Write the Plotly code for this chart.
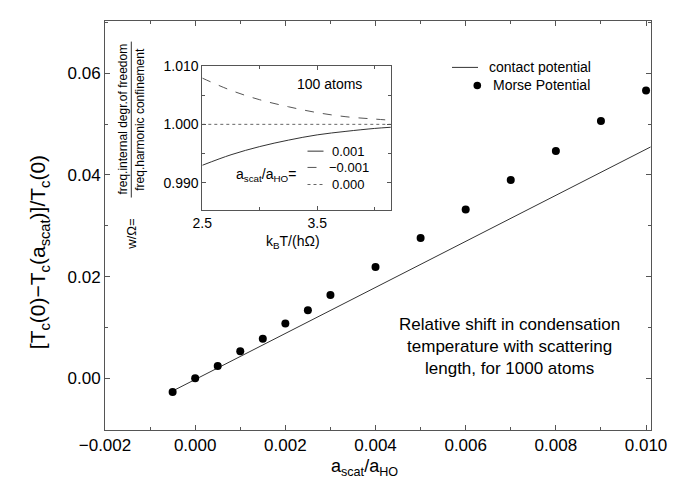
import plotly.graph_objects as go

# ---- data ----
morse_x = [-0.0005, 0.0, 0.0005, 0.001, 0.0015, 0.002, 0.0025, 0.003,
           0.004, 0.005, 0.006, 0.007, 0.008, 0.009, 0.010]
morse_y = [-0.0027, 0.0, 0.0024, 0.0053, 0.0078, 0.0108, 0.0134, 0.0164,
           0.0219, 0.0276, 0.0332, 0.0390, 0.0447, 0.0506, 0.0566]
contact_x = [-0.0005, 0.0101]
contact_y = [-0.0025, 0.0455]

inset_T = [2.5, 2.75, 3.0, 3.25, 3.5, 3.75, 4.0, 4.14]
inset_pos = [0.9930, 0.9948, 0.9962, 0.9973, 0.9982, 0.9988, 0.9993, 0.9995]   # 0.001
inset_neg = [1.0079, 1.0058, 1.0042, 1.0030, 1.0020, 1.0013, 1.0009, 1.0007]   # -0.001
inset_zero = [1.0, 1.0, 1.0, 1.0, 1.0, 1.0, 1.0, 1.0]                          # 0.000

W, H = 682, 478
L, R, T, B = 97, 643, 5, 422
def px(x):
    return (x - L) / (R - L)
def py(y):
    return (B - y) / (B - T)

FONT = "Liberation Sans, Arial, sans-serif"
AX = "#555"

fig = go.Figure()
fig.add_trace(go.Scatter(x=contact_x, y=contact_y, mode="lines",
                         line=dict(color="#333", width=1), showlegend=False))
fig.add_trace(go.Scatter(x=morse_x, y=morse_y, mode="markers",
                         marker=dict(color="black", size=8), showlegend=False))

# inset
fig.add_trace(go.Scatter(x=inset_T, y=inset_zero, mode="lines", xaxis="x2", yaxis="y2",
                         line=dict(color="#666", width=1, dash="dot"), showlegend=False))
fig.add_trace(go.Scatter(x=inset_T, y=inset_neg, mode="lines", xaxis="x2", yaxis="y2",
                         line=dict(color="#555", width=1, dash="dash", shape="spline"), showlegend=False))
fig.add_trace(go.Scatter(x=inset_T, y=inset_pos, mode="lines", xaxis="x2", yaxis="y2",
                         line=dict(color="#333", width=1, shape="spline"), showlegend=False))

common = dict(showgrid=False, zeroline=False, showline=True, linecolor=AX, linewidth=1,
              mirror="allticks", ticks="inside", tickcolor=AX)

fig.update_layout(
    width=W, height=H,
    margin=dict(l=L, r=W - R, t=T, b=H - B),
    paper_bgcolor="white", plot_bgcolor="white",
    font=dict(family=FONT, color="black"),
    xaxis=dict(range=[-0.002, 0.01011], tickvals=[-0.002, 0.0, 0.002, 0.004, 0.006, 0.008, 0.010],
               tickformat=".3f", ticklen=5,
               minor=dict(dtick=0.001, tick0=0, ticklen=3, ticks="inside", tickcolor=AX),
               tickfont=dict(size=17), **common),
    yaxis=dict(range=[-0.01017, 0.07028], tickvals=[0.0, 0.02, 0.04, 0.06],
               tickformat=".2f", ticklen=5,
               minor=dict(dtick=0.01, tick0=0, ticklen=3, ticks="inside", tickcolor=AX),
               tickfont=dict(size=17), **common),
    xaxis2=dict(domain=[px(194.3), px(383)], anchor="y2", range=[2.5, 4.142],
                tickvals=[2.5, 3.5], ticktext=["2.5", "3.5"], ticklen=4,
                minor=dict(tickvals=[3.0, 4.0], ticklen=3, ticks="inside", tickcolor=AX),
                tickfont=dict(size=14), **common),
    yaxis2=dict(domain=[py(197.5), py(50.7)], anchor="x2", range=[0.98539, 1.010],
                tickvals=[0.990, 1.000, 1.010], tickformat=".3f", ticklen=4,
                minor=dict(tickvals=[0.995, 1.005], ticklen=3, ticks="inside", tickcolor=AX),
                tickfont=dict(size=14), **common),
)

ann = []
def A(x, y, text, size, angle=0, xanchor="center", yanchor="middle"):
    ann.append(dict(x=px(x), y=py(y), xref="paper", yref="paper", text=text, showarrow=False,
                    textangle=angle, xanchor=xanchor, yanchor=yanchor,
                    font=dict(size=size, family=FONT, color="black")))

# axis titles
A(31.7, 241, "[T<sub>c</sub>(0)\u2212T<sub>c</sub>(a<sub>scat</sub>)]/T<sub>c</sub>(0)", 21, angle=-90)
A(356, 474, "a<sub>scat</sub>/a<sub>HO</sub>", 18, yanchor="bottom")

# main legend
A(479, 52.3, "contact potential", 14, xanchor="left")
A(483.3, 70.7, "Morse Potential", 14, xanchor="left")

# text block
ann.append(dict(x=px(501), y=py(337), xref="paper", yref="paper",
                text="Relative shift in condensation<br>temperature with scattering<br>length, for 1000 atoms",
                showarrow=False, align="center", xanchor="center", yanchor="middle",
                font=dict(size=17, family=FONT, color="black")))

# inset texts
A(321.5, 69.3, "100 atoms", 14)
A(257.5, 161.7, "a<sub>scat</sub>/a<sub>HO</sub>=", 14)
A(322, 137.7, "0.001", 13, xanchor="left")
A(319, 154.3, "\u22120.001", 13, xanchor="left")
A(322, 171.7, "0.000", 13, xanchor="left")
A(285, 230, "k<sub>B</sub>T/(h\u03a9)", 14)
A(115, 105.5, "freq.internal degr.of freedom", 12, angle=-90)
A(131.7, 105, "freq.harmonic confinement", 12, angle=-90)
A(123.3, 222.5, "w/\u03a9=", 13, angle=-90)

fig.update_layout(annotations=ann)

shapes = []
# main legend glyphs
shapes.append(dict(type="line", xref="paper", yref="paper", x0=px(444), x1=px(470),
                   y0=py(52.3), y1=py(52.3), line=dict(color="#333", width=1)))
shapes.append(dict(type="circle", xref="paper", yref="paper", x0=px(465.5), x1=px(473.1),
                   y0=py(74.5), y1=py(66.9), fillcolor="black", line=dict(color="black", width=0)))
# inset legend glyphs
shapes.append(dict(type="line", xref="paper", yref="paper", x0=px(299.5), x1=px(315.5),
                   y0=py(137.7), y1=py(137.7), line=dict(color="#333", width=1)))
shapes.append(dict(type="line", xref="paper", yref="paper", x0=px(299.5), x1=px(315.5),
                   y0=py(154.3), y1=py(154.3), line=dict(color="#555", width=1, dash="dash")))
shapes.append(dict(type="line", xref="paper", yref="paper", x0=px(299.5), x1=px(315.5),
                   y0=py(171.7), y1=py(171.7), line=dict(color="#666", width=1, dash="dot")))
# fraction bar of inset y label
shapes.append(dict(type="line", xref="paper", yref="paper", x0=px(123.3), x1=px(123.3),
                   y0=py(26), y1=py(185), line=dict(color="#333", width=1)))
fig.update_layout(shapes=shapes)

fig.write_html("out.html")
